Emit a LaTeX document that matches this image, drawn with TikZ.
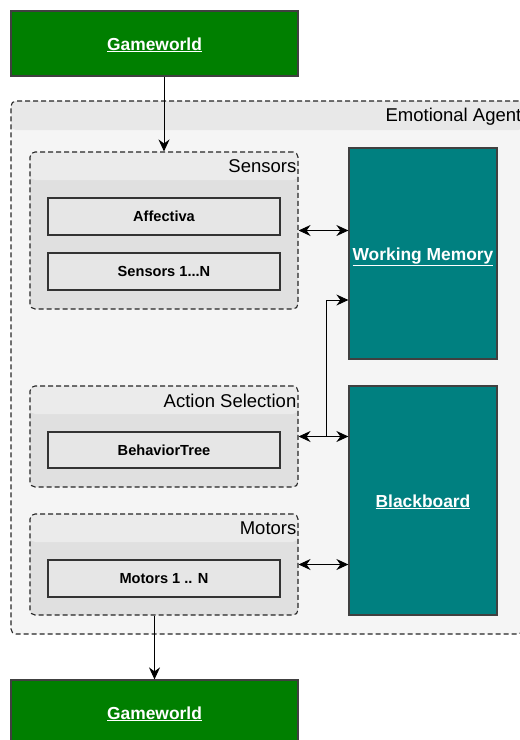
\documentclass[tikz,border=0pt]{standalone}
\usepackage{fontspec}
\setmainfont{Liberation Sans}
\usepackage{tikz}
\usetikzlibrary{arrows.meta}

\definecolor{worldgreen}{HTML}{007F00}
\definecolor{memteal}{HTML}{008080}
\definecolor{agentfill}{HTML}{F5F5F5}
\definecolor{agenthead}{HTML}{E8E8E8}
\definecolor{groupfill}{HTML}{E0E0E0}
\definecolor{grouphead}{HTML}{EBEBEB}
\definecolor{partfill}{HTML}{E6E6E6}

\tikzset{
  every edge/.style={draw},
  flow/.style={line width=1pt, -{Stealth[length=12pt,width=11pt,inset=4pt]}},
  twoway/.style={line width=1pt, {Stealth[length=12pt,width=11pt,inset=4pt]}-{Stealth[length=12pt,width=11pt,inset=4pt]}},
  world/.style={draw=black!75, line width=1.2pt, fill=worldgreen, text=white, inner sep=0pt,
    text height=16pt, text depth=3pt,
    minimum width=287pt, minimum height=65pt, font=\fontsize{17.4}{20}\selectfont\bfseries},
  store/.style={draw=black!75, line width=1.2pt, fill=memteal, text=white, inner sep=0pt,
    text height=16pt, text depth=3pt,
    minimum width=148pt, font=\fontsize{17.4}{20}\selectfont\bfseries},
  agentbox/.style={draw=black!85, dash pattern=on 5pt off 3pt, rounded corners=5pt, line width=1.1pt,
    fill=agentfill, inner sep=0pt,
    path picture={\fill[agenthead] (path picture bounding box.north west) rectangle ([yshift=-29pt]path picture bounding box.north east);}},
  groupbox/.style={draw=black!85, dash pattern=on 5pt off 3pt, rounded corners=5pt, line width=1.1pt,
    fill=groupfill, inner sep=0pt, minimum width=268pt,
    path picture={\fill[grouphead] (path picture bounding box.north west) rectangle ([yshift=-28pt]path picture bounding box.north east);}},
  part/.style={draw=black!80, line width=1.2pt, fill=partfill, inner sep=0pt,
    minimum width=232pt, minimum height=37pt, font=\fontsize{14.6}{17}\selectfont\bfseries},
  title/.style={anchor=east, inner sep=2pt, font=\fontsize{18.5}{21}\selectfont},
}

\begin{document}
\begin{tikzpicture}[x=1pt, y=-1pt]
    \useasboundingbox (0,0) rectangle (520,740);

    \node[world] at (154.5, 43.5) (gwtop) {\underline{Gameworld}};
    \node[world] at (154.5, 712.5) (gwbot) {\underline{Gameworld}};

    \node[agentbox, minimum width=512pt, minimum height=533pt] at (267, 367.5) (agent) {};
    \node[title] at ([yshift=-16pt]agent.north east) {Emotional Agent};

    % groups on the left
    \node[groupbox, minimum height=157pt] at (164, 230.5) (sens) {};
    \node[groupbox, minimum height=101pt] at (164, 436.5) (act) {};
    \node[groupbox, minimum height=101pt] at (164, 564.5) (mot) {};
    \node[title] at ([yshift=-15pt]sens.north east) {Sensors};
    \node[title] at ([yshift=-15pt]act.north east) {Action Selection};
    \node[title] at ([yshift=-15pt]mot.north east) {Motors};

    \node[part] at (164, 216.5) (aff) {Affectiva};
    \node[part] at (164, 271.5) (sensn) {Sensors 1...N};
    \node[part, minimum height=36pt] at (164, 450) (bt) {BehaviorTree};
    \node[part] at (164, 578.5) (motn) {Motors 1 .. N};

    % stores on the right
    \node[store, minimum height=211pt] at (423, 253.5) (wm) {\underline{Working Memory}};
    \node[store, minimum height=229pt] at (423, 500.5) (bb) {\underline{Blackboard}};

    \coordinate (split) at (326, 436);

    \draw[flow] (gwtop.south -| sens.north) -- (sens.north);
    \draw[flow] (mot.south -| gwbot.north) -- (gwbot.north);
    \draw[twoway] (sens.east) -- (sens.east -| wm.west);
    \draw[twoway] (act.east) -- (act.east -| bb.west);
    \draw[flow] (split) |- (326, 300) -- (326, 300 -| wm.west);
    \draw[twoway] (mot.east) -- (mot.east -| bb.west);
\end{tikzpicture}
\end{document}
